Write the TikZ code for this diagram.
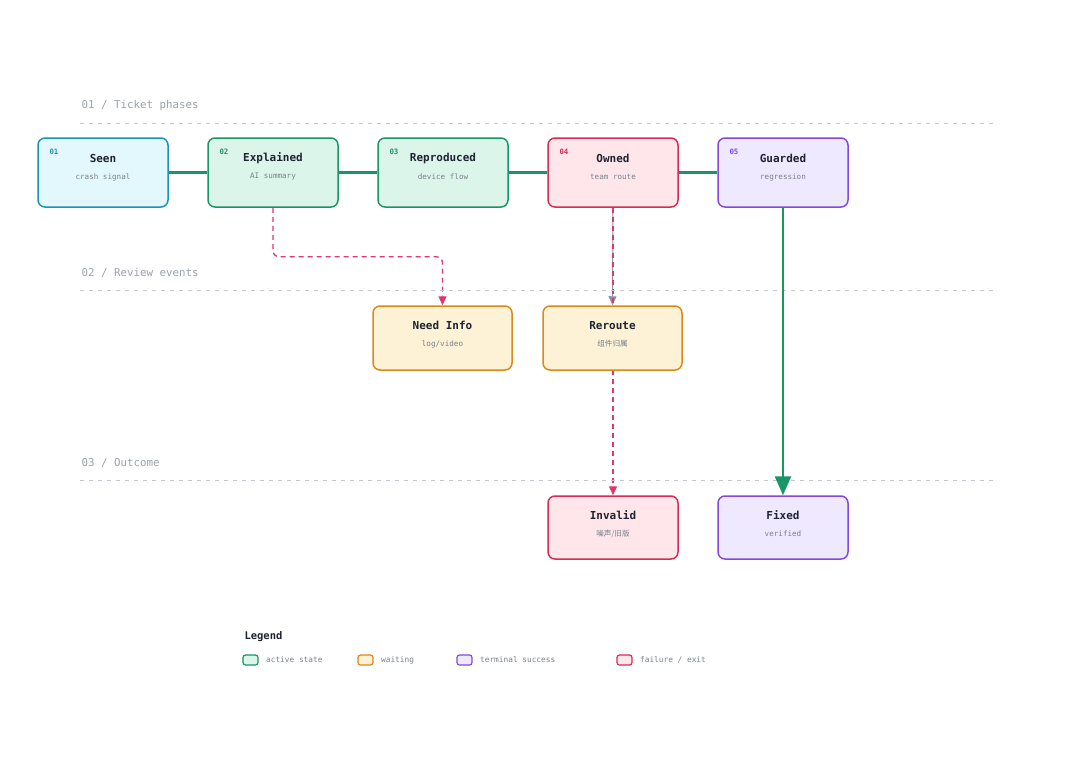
\documentclass[tikz,border=0pt]{standalone}
\usepackage{fontspec}
\setmainfont{DejaVu Sans}
\setmonofont{DejaVu Sans Mono}
\newfontfamily\cjk{Noto Sans CJK SC}
\usetikzlibrary{arrows.meta,backgrounds}

\definecolor{cy}{HTML}{1B93B5}
\definecolor{cyfill}{HTML}{E2F8FD}
\definecolor{gr}{HTML}{1A9565}
\definecolor{grfill}{HTML}{DCF5EA}
\definecolor{rd}{HTML}{D92B55}
\definecolor{rdfill}{HTML}{FFE6EA}
\definecolor{pu}{HTML}{8448E0}
\definecolor{pufill}{HTML}{EEE9FE}
\definecolor{og}{HTML}{D98A1C}
\definecolor{ogfill}{HTML}{FDF1D6}
\definecolor{ink}{HTML}{1F2330}
\definecolor{muted}{HTML}{7A808C}
\definecolor{faint}{HTML}{9BA1AD}
\definecolor{rule}{HTML}{C4C8D0}
\definecolor{dash}{HTML}{DB3A6A}
\definecolor{slate}{HTML}{8A93A6}

\begin{document}
\begin{tikzpicture}
      [x=1pt,y=-1pt
      ,font=\ttfamily
      ,box/.style={draw=#1,fill=#1fill,rounded corners=7,line width=1.5,minimum width=130,minimum height=69}
      ,ttl/.style={font=\ttfamily\bfseries\fontsize{11}{13}\selectfont,text=ink}
      ,subtxt/.style={font=\ttfamily\fontsize{7.6}{9}\selectfont,text=muted}
      ,numtxt/.style={font=\ttfamily\bfseries\fontsize{7.4}{9}\selectfont,anchor=west}
      ,sect/.style={font=\ttfamily\fontsize{10.8}{13}\selectfont,text=faint,anchor=west}
      ,sectline/.style={color=rule,line width=.9,dash pattern=on 4 off 5}
      ,phase/.style={color=gr,line width=2.2}
      ,reject/.style={color=dash,line width=1.3,dash pattern=on 5 off 4,-{Triangle[width=8,length=9]}}
      ,swatch/.style={draw=#1,fill=#1fill,rounded corners=2.5,line width=1.2,minimum width=15,minimum height=10,inner sep=0}
      ,legtxt/.style={font=\ttfamily\fontsize{7.8}{9}\selectfont,text=muted,anchor=west}
      ]
        \useasboundingbox (0,0) rectangle (1080,772);
        % section headers
        \node[sect] (s1) at (78,106) {01 / Ticket phases};
        \node[sect] (s2) at (78,273) {02 / Review events};
        \node[sect] (s3) at (78,463) {03 / Outcome};
        \foreach \y in {123,290,480}{
          \draw[sectline] (80,\y) -- (993,\y);
        }
        % ticket phases
        \foreach \nm/\x/\n/\t/\s/\c in {seen/103/01/Seen/crash signal/cy,
                                        expl/273/02/Explained/AI summary/gr,
                                        repro/443/03/Reproduced/device flow/gr,
                                        owned/613/04/Owned/team route/rd,
                                        guard/783/05/Guarded/regression/pu}{
          \node[box=\c] (\nm) at (\x,172.5) {};
          \node[numtxt,text=\c] (\nm-n) at (\x-57,152) {\n};
          \node[ttl] (\nm-t) at (\x,158) {\t};
          \node[subtxt] (\nm-s) at (\x,177) {\s};
        }
        % review events
        \node[box=og,minimum width=139,minimum height=64] (need) at (442.5,338) {};
        \node[ttl] (need-t) at (442.5,325.5) {Need Info};
        \node[subtxt] (need-s) at (442.5,344) {log/video};
        \node[box=og,minimum width=139,minimum height=64] (rer) at (612.5,338) {};
        \node[ttl] (rer-t) at (612.5,325.5) {Reroute};
        \node[subtxt] (rer-s) at (612.5,344) {\cjk 组件归属};
        % outcome
        \node[box=rd,minimum height=63] (inv) at (613,527.5) {};
        \node[ttl] (inv-t) at (613,515) {Invalid};
        \node[subtxt] (inv-s) at (613,534) {\cjk 噪声/旧版};
        \node[box=pu,minimum height=63] (fix) at (783,527.5) {};
        \node[ttl] (fix-t) at (783,515) {Fixed};
        \node[subtxt] (fix-s) at (783,534) {verified};
        % connectors
        \begin{pgfonlayer}{background}
          \fill[white] (0,0) rectangle (1080,772);
          \draw[phase] (seen) -- (expl) -- (repro) -- (owned) -- (guard);
          \draw[reject,rounded corners=6] (expl.south) -- ++(0,49) -| (need.north);
          \draw[color=slate,line width=1,-{Triangle[width=8,length=9]}] (owned.south) -- (rer.north);
          \draw[reject] (owned.south) -- (inv.north);
        \end{pgfonlayer}
        \draw[color=gr,line width=2.6,-{Triangle[width=16,length=19]}] (guard.south) -- (fix.north);
        % legend
        \node[font=\ttfamily\bfseries\fontsize{10.5}{12}\selectfont,text=ink,anchor=west] (leg) at (241,637) {Legend};
        \foreach \nm/\x/\c/\t in {act/250.5/gr/active state,wait/365.5/og/waiting,
                                  term/464.5/pu/terminal success,fail/624.5/rd/{failure / exit}}{
          \node[swatch=\c] (\nm) at (\x,660) {};
          \node[legtxt] (\nm-t) at ([xshift=4]\nm.east) {\t};
        }
      \end{tikzpicture}
\end{document}
